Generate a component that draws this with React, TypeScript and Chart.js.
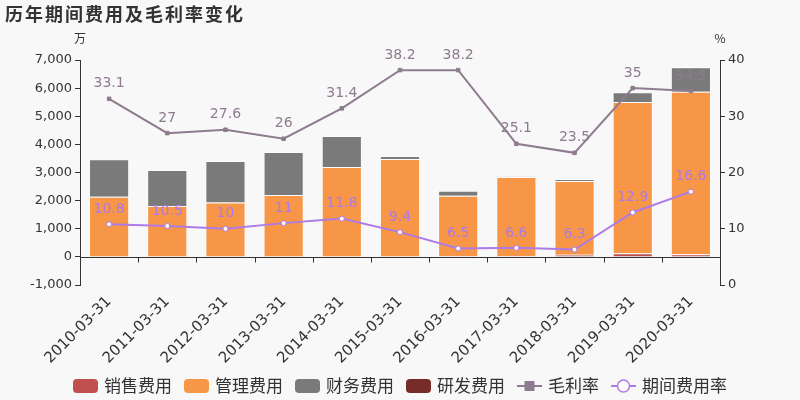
import React, { useEffect, useRef } from "react";
import { Chart, registerables } from "chart.js";

Chart.register(...registerables);

const categories = [
  "2010-03-31", "2011-03-31", "2012-03-31", "2013-03-31", "2014-03-31", "2015-03-31",
  "2016-03-31", "2017-03-31", "2018-03-31", "2019-03-31", "2020-03-31",
];
const salesExpense = [0, 0, 0, 0, 0, 0, 20, 25, 80, 130, 90];
const adminExpense = [2140, 1810, 1930, 2200, 3200, 3480, 2150, 2815, 2620, 5380, 5785];
const financeExpense = [1330, 1280, 1480, 1530, 1100, 110, 180, 10, 70, 340, 865];
const rdExpense = [0, 0, 0, 0, 0, 0, 0, 0, 0, 0, 0];
const grossMargin = [33.1, 27, 27.6, 26, 31.4, 38.2, 38.2, 25.1, 23.5, 35, 34.5];
const expenseRate = [10.8, 10.5, 10, 11, 11.8, 9.4, 6.5, 6.6, 6.3, 12.9, 16.6];

const leftMin = -1000;
const leftMax = 7000;
const leftStep = 1000;
const rightMin = 0;
const rightMax = 40;
const rightStep = 10;

const title = "历年期间费用及毛利率变化";
const leftUnit = "万";
const rightUnit = "%";
const seriesNames = ["销售费用", "管理费用", "财务费用", "研发费用", "毛利率", "期间费用率"];

const C_SALES = "#c0504d";
const C_ADMIN = "#f79646";
const C_FIN = "#7a7a7a";
const C_RD = "#772c2a";
const C_GM = "#8e7b8f";
const C_ER = "#ad7ae6";
const BG = "#f8f8f8";
const TXT = "#333333";
const FONT = '"DejaVu Sans", sans-serif';
const CJK = '"Noto Sans CJK SC", sans-serif';

export default function App() {
  const ref = useRef<HTMLCanvasElement | null>(null);

  useEffect(() => {
    document.body.style.margin = "0";
    document.body.style.background = BG;
    const canvas = ref.current;
    if (!canvas) return;

    const bgPlugin = {
      id: "bg",
      beforeDraw(chart: any) {
        const ctx = chart.ctx;
        ctx.save();
        ctx.fillStyle = BG;
        ctx.fillRect(0, 0, chart.width, chart.height);
        ctx.restore();
      },
    };

    const zeroLinePlugin = {
      id: "zeroLine",
      beforeDatasetsDraw(chart: any) {
        const ctx = chart.ctx;
        const y = Math.round(chart.scales.y.getPixelForValue(0)) + 0.5;
        const area = chart.chartArea;
        const xs = chart.scales.x;
        const n = categories.length;
        const w = (area.right - area.left) / n;
        ctx.save();
        ctx.strokeStyle = TXT;
        ctx.lineWidth = 1;
        ctx.beginPath();
        ctx.moveTo(area.left, y);
        ctx.lineTo(area.right, y);
        for (let k = 1; k < n; k++) {
          const x = Math.round(xs.getPixelForValue(k) - w / 2) + 0.5;
          ctx.moveTo(x, y);
          ctx.lineTo(x, y + 5);
        }
        ctx.stroke();
        ctx.restore();
      },
    };

    const labelPlugin = {
      id: "pointLabels",
      afterDatasetsDraw(chart: any) {
        const ctx = chart.ctx;
        const sets = [
          { idx: 4, values: grossMargin, color: C_GM },
          { idx: 5, values: expenseRate, color: C_ER },
        ];
        ctx.save();
        ctx.font = `14px ${FONT}`;
        ctx.textAlign = "center";
        ctx.textBaseline = "middle";
        sets.forEach((s) => {
          const meta = chart.getDatasetMeta(s.idx);
          ctx.fillStyle = s.color;
          meta.data.forEach((pt: any, i: number) => {
            ctx.fillText(String(s.values[i]), pt.x, pt.y - 15);
          });
        });
        ctx.restore();
      },
    };

    const decorPlugin = {
      id: "decor",
      afterDraw(chart: any) {
        const ctx = chart.ctx;
        const area = chart.chartArea;
        ctx.save();
        // title
        ctx.fillStyle = TXT;
        ctx.font = `bold 18px ${CJK}`;
        (ctx as any).letterSpacing = "2px";
        ctx.textAlign = "left";
        ctx.textBaseline = "middle";
        ctx.fillText(title, 5, 14);
        (ctx as any).letterSpacing = "0px";
        // units
        ctx.font = `12px ${CJK}`;
        ctx.textAlign = "center";
        ctx.fillText(leftUnit, area.left, 38);
        ctx.fillText(rightUnit, area.right, 38);
        // legend
        ctx.font = `17px ${CJK}`;
        ctx.textBaseline = "middle";
        ctx.textAlign = "left";
        const colors = [C_SALES, C_ADMIN, C_FIN, C_RD];
        const boxW = 25;
        const boxH = 14;
        const gapIn = 6;
        const gapOut = 12;
        const widths = seriesNames.map((s) => ctx.measureText(s).width);
        let total = 0;
        widths.forEach((w, i) => { total += boxW + gapIn + w + (i < 5 ? gapOut : 0); });
        let x = Math.round(400 - total / 2);
        const yc = 386;
        for (let i = 0; i < 6; i++) {
          if (i < 4) {
            ctx.fillStyle = colors[i];
            ctx.beginPath();
            (ctx as any).roundRect(x, yc - boxH / 2, boxW, boxH, 4);
            ctx.fill();
          } else {
            const col = i === 4 ? C_GM : C_ER;
            ctx.strokeStyle = col;
            ctx.lineWidth = 2;
            ctx.beginPath();
            ctx.moveTo(x, yc);
            ctx.lineTo(x + boxW, yc);
            ctx.stroke();
            if (i === 4) {
              ctx.fillStyle = col;
              ctx.fillRect(x + boxW / 2 - 5, yc - 5, 10, 10);
            } else {
              ctx.fillStyle = "#ffffff";
              ctx.beginPath();
              ctx.arc(x + boxW / 2, yc, 6, 0, Math.PI * 2);
              ctx.fill();
              ctx.lineWidth = 1.5;
              ctx.stroke();
            }
          }
          x += boxW + gapIn;
          ctx.fillStyle = TXT;
          ctx.fillText(seriesNames[i], x, yc);
          x += widths[i] + gapOut;
        }
        ctx.restore();
      },
    };

    const barBorder = "rgba(255,255,255,0.45)";

    const chart = new Chart(canvas, {
      type: "bar",
      data: {
        labels: categories,
        datasets: [
          { type: "bar", label: seriesNames[0], data: salesExpense, backgroundColor: C_SALES, borderColor: barBorder, borderWidth: 1, yAxisID: "y", order: 2 },
          { type: "bar", label: seriesNames[1], data: adminExpense, backgroundColor: C_ADMIN, borderColor: barBorder, borderWidth: 1, yAxisID: "y", order: 2 },
          { type: "bar", label: seriesNames[2], data: financeExpense, backgroundColor: C_FIN, borderColor: barBorder, borderWidth: 1, yAxisID: "y", order: 2 },
          { type: "bar", label: seriesNames[3], data: rdExpense, backgroundColor: C_RD, borderColor: barBorder, borderWidth: 1, yAxisID: "y", order: 2 },
          {
            type: "line", label: seriesNames[4], data: grossMargin, yAxisID: "y1", order: 0,
            borderColor: C_GM, backgroundColor: C_GM, borderWidth: 2,
            pointStyle: "rect", pointRadius: 2.5, pointBorderWidth: 1, pointBackgroundColor: C_GM, pointBorderColor: C_GM,
            tension: 0,
          },
          {
            type: "line", label: seriesNames[5], data: expenseRate, yAxisID: "y1", order: 0,
            borderColor: C_ER, backgroundColor: "#ffffff", borderWidth: 2,
            pointStyle: "circle", pointRadius: 2.5, pointBorderWidth: 1, pointBackgroundColor: "#ffffff", pointBorderColor: C_ER,
            tension: 0,
          },
        ] as any,
      },
      options: {
        responsive: false,
        animation: false,
        devicePixelRatio: 1,
        layout: { padding: { top: 60, left: 0, right: 0, bottom: 0 } },
        plugins: {
          legend: { display: false },
          tooltip: { enabled: false },
          title: { display: false },
        },
        datasets: {
          bar: { categoryPercentage: 1, barPercentage: 0.69 },
        } as any,
        scales: {
          x: {
            stacked: true,
            grid: { display: false, drawTicks: false },
            border: { display: false },
            ticks: {
              color: TXT,
              font: { family: FONT, size: 15 },
              minRotation: 45,
              maxRotation: 45,
              padding: 8,
              autoSkip: false,
            },
            afterFit(s: any) { s.height = 115; },
          },
          y: {
            position: "left",
            stacked: true,
            min: leftMin,
            max: leftMax,
            ticks: {
              stepSize: leftStep,
              color: TXT,
              font: { family: FONT, size: 13 },
              padding: 3,
              callback: (v: any) => Number(v).toLocaleString("en-US"),
            },
            grid: { drawOnChartArea: false, tickLength: 5, color: TXT },
            border: { color: TXT, width: 1 },
            afterFit(s: any) { s.width = 80; },
          },
          y1: {
            position: "right",
            min: rightMin,
            max: rightMax,
            ticks: {
              stepSize: rightStep,
              color: TXT,
              font: { family: FONT, size: 13 },
              padding: 3,
            },
            grid: { drawOnChartArea: false, tickLength: 5, color: TXT },
            border: { color: TXT, width: 1 },
            afterFit(s: any) { s.width = 80; },
          },
        },
      } as any,
      plugins: [bgPlugin, zeroLinePlugin, labelPlugin, decorPlugin],
    });

    return () => chart.destroy();
  }, []);

  return <canvas ref={ref} width={800} height={400} style={{ display: "block", width: 800, height: 400 }} />;
}
